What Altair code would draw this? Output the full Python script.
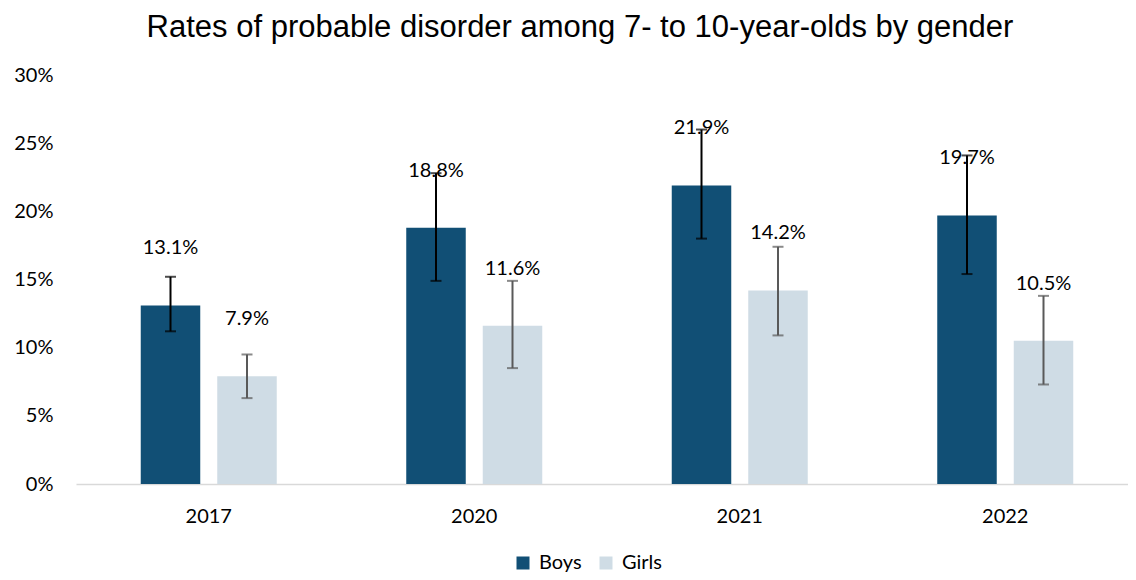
import altair as alt
import pandas as pd

years = ["2017", "2020", "2021", "2022"]
genders = ["Boys", "Girls"]
boys = [0.131, 0.188, 0.219, 0.197]
girls = [0.079, 0.116, 0.142, 0.105]
boys_lo = [0.112, 0.149, 0.180, 0.154]
boys_hi = [0.152, 0.228, 0.260, 0.241]
girls_lo = [0.063, 0.085, 0.109, 0.073]
girls_hi = [0.095, 0.149, 0.174, 0.138]

bar_colors = ["#114F75", "#CFDCE5"]
err_colors = ["#000000", "#595959"]

rows = []
for i, y in enumerate(years):
    rows.append({"year": y, "gender": "Boys", "value": boys[i], "lo": boys_lo[i], "hi": boys_hi[i]})
    rows.append({"year": y, "gender": "Girls", "value": girls[i], "lo": girls_lo[i], "hi": girls_hi[i]})
df = pd.DataFrame(rows)

x_enc = alt.X("year:N", sort=years, title=None,
              scale=alt.Scale(range=[0, 1062], paddingInner=0, paddingOuter=0),
              axis=alt.Axis(labelAngle=0, ticks=False, tickSize=0, domainColor="#D9D9D9",
                            domainWidth=1.5, labelFont="Lato", labelFontSize=20,
                            labelColor="#000000", labelPadding=22))
xo_enc = alt.XOffset("gender:N", sort=genders,
                     scale=alt.Scale(paddingInner=0.2222, paddingOuter=0.8464))
y_scale = alt.Scale(domain=[0, 0.30], nice=False, zero=True)

base = alt.Chart(df)

bars = base.mark_bar().encode(
    x=x_enc,
    xOffset=xo_enc,
    y=alt.Y("value:Q", scale=y_scale, title=None,
            axis=alt.Axis(format=".0%", values=[0, 0.05, 0.10, 0.15, 0.20, 0.25, 0.30],
                          grid=False, domain=False, ticks=False, tickSize=0,
                          labelFont="Lato", labelFontSize=20, labelColor="#000000",
                          labelPadding=23)),
    color=alt.Color("gender:N", sort=genders,
                    scale=alt.Scale(domain=genders, range=bar_colors),
                    legend=alt.Legend(title=None, orient="none", direction="horizontal",
                                      legendX=437, legendY=478, symbolType="square",
                                      symbolSize=169, symbolStrokeWidth=0,
                                      labelFont="Lato", labelFontSize=20,
                                      labelColor="#000000", labelOffset=6,
                                      columnPadding=14, padding=0)),
)

stroke_enc = alt.Stroke("gender:N", sort=genders,
                        scale=alt.Scale(domain=genders, range=err_colors), legend=None)

rules = base.mark_rule(strokeWidth=2).encode(
    x="year:N", xOffset="gender:N", y=alt.Y("lo:Q", scale=y_scale), y2="hi:Q",
    stroke=stroke_enc,
)
caps_lo = base.mark_tick(size=11, thickness=2).encode(
    x="year:N", xOffset="gender:N", y=alt.Y("lo:Q", scale=y_scale), color=stroke_enc,
)
caps_hi = base.mark_tick(size=11, thickness=2).encode(
    x="year:N", xOffset="gender:N", y=alt.Y("hi:Q", scale=y_scale), color=stroke_enc,
)
labels = base.mark_text(dy=-57, font="Lato", fontSize=20, color="#000000",
                        baseline="middle").encode(
    x="year:N", xOffset="gender:N", y=alt.Y("value:Q", scale=y_scale),
    text=alt.Text("value:Q", format=".1%"),
)

chart = alt.layer(bars, rules, caps_lo, caps_hi, labels).resolve_scale(
    color="independent"
).properties(
    width=1052, height=409,
    autosize=alt.AutoSizeParams(type="none"),
    padding={"left": 68, "top": 67, "right": 0, "bottom": 88},
    background="#FFFFFF",
    title=alt.TitleParams(
        text="Rates of probable disorder among 7- to 10-year-olds by gender",
        font="Liberation Sans", fontSize=31, fontWeight="normal", color="#000000",
        anchor="middle", dx=-22, offset=21),
).configure_view(stroke=None)

chart.save("out.html", embed_options={"renderer": "svg", "actions": False})
